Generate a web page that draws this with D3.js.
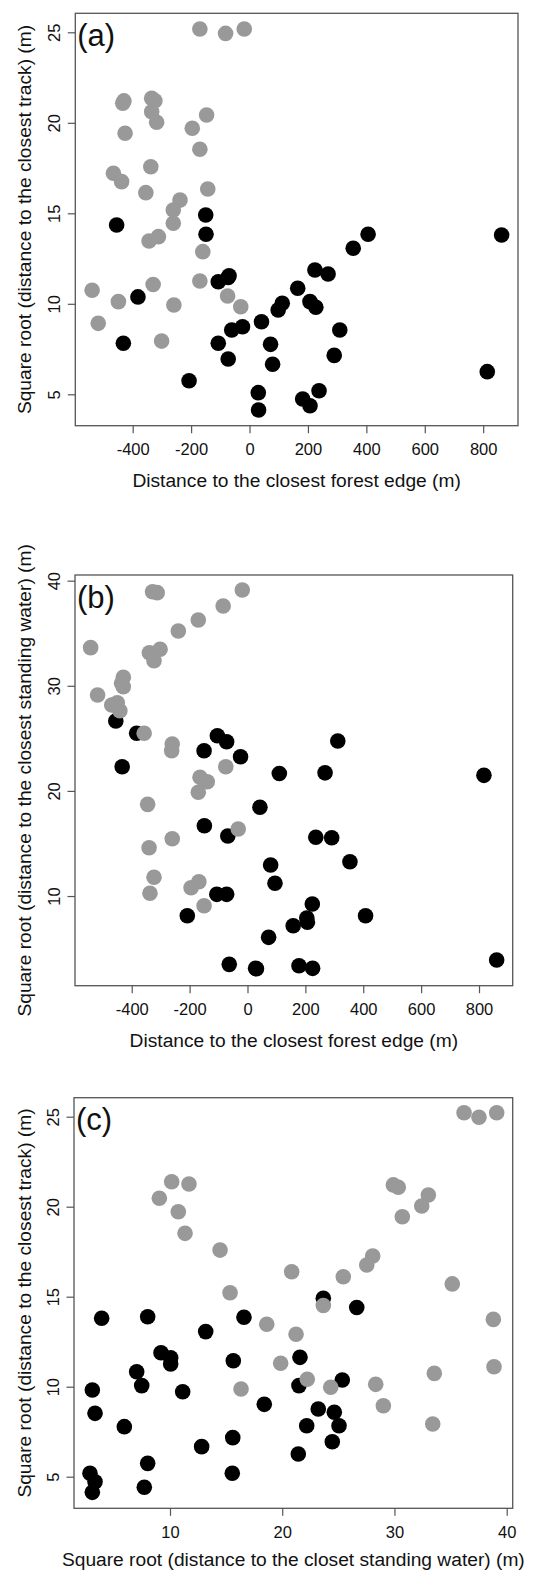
<!DOCTYPE html>
<html>
<head>
<meta charset="utf-8">
<script src="https://cdn.jsdelivr.net/npm/d3@7"></script>
<style>
  body { margin: 0; background: #fff; }
  svg { display: block; font-family: "Liberation Sans", Arial, sans-serif; }
</style>
</head>
<body>
<svg id="chart" width="548" height="1572"></svg>
<script>
// ── data: [x, y] per panel, split by group ──────────────────────
// (a) forest edge (m) vs sqrt(track distance)
const aGray = [
  [-170, 25.18], [-82, 24.94], [-18, 25.18], [-430, 21.21], [-434, 21.08],
  [-335, 21.35], [-324, 21.22], [-335, 20.61], [-318, 20.03], [-147, 20.43],
  [-196, 19.7], [-426, 19.42], [-170, 18.54], [-338, 17.57], [-466, 17.21],
  [-438, 16.75], [-143, 16.34], [-355, 16.14], [-238, 15.73], [-261, 15.18],
  [-261, 14.45], [-344, 13.47], [-312, 13.71], [-160, 12.88], [-170, 11.26],
  [-330, 11.07], [-539, 10.75], [-75, 10.43], [-449, 10.12], [-518, 8.92],
  [-259, 9.93], [-30, 9.84], [-301, 7.94],
];
const aBlack = [
  [-455, 14.35], [-150, 14.91], [-149, 13.84], [406, 13.84], [355, 13.07],
  [863, 13.8], [224, 11.87], [269, 11.65], [-107, 11.22], [-73, 11.46],
  [-70, 11.55], [165, 10.86], [-382, 10.38], [207, 10.12], [227, 9.81],
  [98, 9.66], [112, 10.03], [41, 9.01], [-61, 8.55], [-24, 8.73],
  [309, 8.55], [-432, 7.82], [-107, 7.82], [72, 7.76], [-73, 6.95],
  [79, 6.66], [290, 7.15], [814, 6.25], [-207, 5.75], [30, 5.09],
  [31, 4.13], [182, 4.74], [207, 4.37], [238, 5.2],
];

// (b) forest edge (m) vs sqrt(standing water distance)
const bGray = [
  [-328, 38.95], [-312, 38.86], [-18, 39.12], [-84, 37.59], [-170, 36.26],
  [-239, 35.21], [-542, 33.63], [-339, 33.15], [-302, 33.47], [-323, 32.39],
  [-429, 30.81], [-435, 30.24], [-429, 29.91], [-518, 29.12], [-469, 28.17],
  [-450, 28.39], [-441, 27.63], [-357, 25.48], [-260, 24.46], [-262, 23.82],
  [-75, 22.3], [-164, 21.29], [-139, 20.87], [-170, 19.87], [-345, 18.72],
  [-32, 16.38], [-260, 15.45], [-340, 14.6], [-323, 11.78], [-168, 11.36],
  [-195, 10.79], [-337, 10.26], [-150, 9.08],
];
const bBlack = [
  [-455, 26.65], [-383, 25.48], [-433, 22.3], [-150, 23.82], [-104, 25.25],
  [-72, 24.68], [-24, 23.25], [312, 24.75], [110, 21.66], [268, 21.72],
  [817, 21.48], [43, 18.44], [-149, 16.69], [-68, 15.71], [236, 15.59],
  [291, 15.55], [354, 13.26], [80, 12.95], [95, 11.21], [-106, 10.16],
  [-72, 10.16], [224, 9.24], [205, 7.9], [207, 7.5], [158, 7.17],
  [408, 8.13], [-208, 8.13], [73, 6.07], [-63, 3.5], [28, 3.12],
  [31, 3.08], [178, 3.37], [225, 3.12], [861, 3.91],
];

// (c) sqrt(standing water distance) vs sqrt(track distance)
const cGray = [
  [36.2, 25.22], [37.53, 24.97], [39.11, 25.22], [10.15, 21.39], [11.69, 21.26],
  [9.05, 20.47], [10.74, 19.72], [11.34, 18.52], [29.9, 21.21], [30.34, 21.08],
  [33.02, 20.65], [32.43, 20.04], [30.7, 19.44], [14.46, 17.59], [28.06, 17.26],
  [27.53, 16.76], [20.84, 16.39], [25.44, 16.11], [35.15, 15.71], [15.35, 15.22],
  [23.66, 14.51], [18.62, 13.47], [21.23, 12.91], [38.81, 13.74], [19.86, 11.3],
  [22.23, 10.41], [16.33, 9.87], [24.32, 9.97], [28.33, 10.13], [29.01, 8.94],
  [33.55, 10.74], [38.87, 11.11], [33.41, 7.93],
];
const cBlack = [
  [23.66, 14.91], [26.64, 14.4], [3.91, 13.8], [8.01, 13.89], [16.59, 13.86],
  [13.18, 13.06], [9.2, 11.89], [10.06, 11.61], [10.06, 11.26], [15.64, 11.44],
  [21.58, 11.63], [7.03, 10.83], [7.48, 10.06], [3.08, 9.82], [11.13, 9.72],
  [21.49, 10.06], [25.35, 10.37], [3.32, 8.52], [18.4, 9.02], [23.21, 8.76],
  [24.64, 8.58], [5.93, 7.78], [22.18, 7.83], [25.06, 7.83], [24.46, 6.94],
  [12.82, 6.67], [15.59, 7.17], [21.43, 6.26], [8.01, 5.74], [15.55, 5.19],
  [7.71, 4.41], [2.87, 5.19], [3.32, 4.72], [3.08, 4.13],
];

const forestTicks = [-400, -200, 0, 200, 400, 600, 800];
const trackTicks = [5, 10, 15, 20, 25];
const waterTicks = [10, 20, 30, 40];

const forestTitle = "Distance to the closest forest edge (m)";
const trackTitle = "Square root (distance to the closest track) (m)";
const waterTitle = "Square root (distance to the closest standing water) (m)";
const waterXTitle = "Square root (distance to the closet standing water) (m)";

const GRAY = "#999999";
const INK = "#111";
const FRAME = "#555";

// ── one scatter panel ───────────────────────────────────────────
function drawPanel(p) {
  const svg = d3.select("#chart");
  const g = svg.append("g");

  const x = d3.scaleLinear().domain(p.xDomain).range([p.left, p.right]);
  const y = d3.scaleLinear().domain(p.yDomain).range([p.bottom, p.top]);

  // bottom axis
  const xa = g.append("g")
    .attr("transform", `translate(0,${p.bottom})`)
    .call(d3.axisBottom(x).tickValues(p.xTicks).tickSize(7.5).tickSizeOuter(0)
      .tickFormat((d) => String(d)));
  xa.select(".domain").remove();
  xa.selectAll("line").attr("stroke", FRAME).attr("stroke-width", 1.2);
  xa.selectAll("text")
    .attr("y", 29.5).attr("dy", 0)
    .attr("fill", INK).style("font-size", "16.5px");

  // left axis, labels turned like R's las = 0
  const ya = g.append("g")
    .attr("transform", `translate(${p.left},0)`)
    .call(d3.axisLeft(y).tickValues(p.yTicks).tickSize(7.5).tickSizeOuter(0)
      .tickFormat((d) => String(d)));
  ya.select(".domain").remove();
  ya.selectAll("line").attr("stroke", FRAME).attr("stroke-width", 1.2);
  ya.selectAll("text")
    .attr("x", 0).attr("dy", 0)
    .attr("text-anchor", "middle")
    .attr("transform", "translate(-15.5,0) rotate(-90)")
    .attr("fill", INK).style("font-size", "16.5px");

  // frame
  g.append("rect")
    .attr("x", p.left).attr("y", p.top)
    .attr("width", p.right - p.left).attr("height", p.bottom - p.top)
    .attr("fill", "none").attr("stroke", FRAME).attr("stroke-width", 1.3);

  // points: black first, grey drawn over it
  const dots = g.append("g");
  dots.selectAll("circle.blk").data(p.black).enter().append("circle")
    .attr("class", "blk")
    .attr("cx", (d) => x(d[0])).attr("cy", (d) => y(d[1]))
    .attr("r", 7.8).attr("fill", "#000");
  dots.selectAll("circle.gry").data(p.gray).enter().append("circle")
    .attr("class", "gry")
    .attr("cx", (d) => x(d[0])).attr("cy", (d) => y(d[1]))
    .attr("r", 7.8).attr("fill", GRAY);

  // panel tag
  g.append("text")
    .attr("x", p.left + 2).attr("y", p.top + 32.5)
    .attr("fill", INK).style("font-size", "31px")
    .text(p.tag);

  // titles
  g.append("text")
    .attr("x", (p.left + p.right) / 2).attr("y", p.bottom + p.xTitleGap)
    .attr("text-anchor", "middle")
    .attr("fill", INK).style("font-size", "19.2px")
    .text(p.xTitle);
  g.append("text")
    .attr("transform", `translate(30.5,${(p.top + p.bottom) / 2}) rotate(-90)`)
    .attr("text-anchor", "middle")
    .attr("fill", INK).style("font-size", "19.2px")
    .text(p.yTitle);
}

drawPanel({
  tag: "(a)", left: 75.3, right: 518, top: 13.3, bottom: 425.7,
  xDomain: [-596.5, 919.2], yDomain: [3.265, 26.05],
  xTicks: forestTicks, yTicks: trackTicks,
  xTitle: forestTitle, yTitle: trackTitle, xTitleGap: 61.5,
  gray: aGray, black: aBlack,
});

drawPanel({
  tag: "(b)", left: 75, right: 512.7, top: 575, bottom: 985.7,
  xDomain: [-596, 916.4], yDomain: [1.47, 40.54],
  xTicks: forestTicks, yTicks: waterTicks,
  xTitle: forestTitle, yTitle: waterTitle, xTitleGap: 61,
  gray: bGray, black: bBlack,
});

drawPanel({
  tag: "(c)", left: 74, right: 512.7, top: 1097.7, bottom: 1508.3,
  xDomain: [1.446, 40.535], yDomain: [3.244, 26.056],
  xTicks: waterTicks, yTicks: trackTicks,
  xTitle: waterXTitle, yTitle: trackTitle, xTitleGap: 57.5,
  gray: cGray, black: cBlack,
});
</script>
</body>
</html>
